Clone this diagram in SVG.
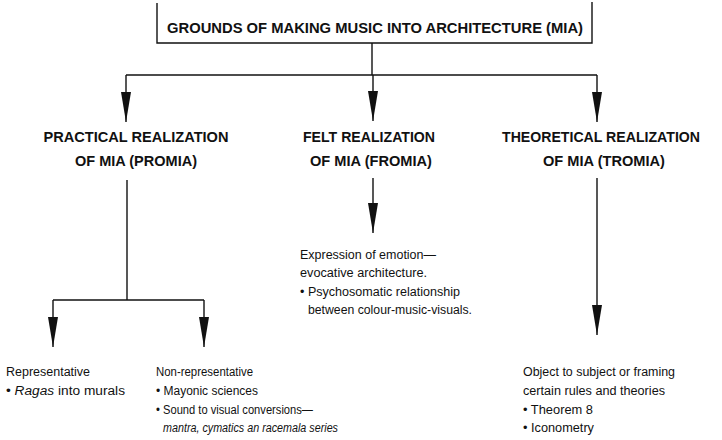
<svg xmlns="http://www.w3.org/2000/svg" width="722" height="440" viewBox="0 0 722 440">
<style>
.h{font-family:"Liberation Sans",Arial,sans-serif;font-weight:bold;font-size:15px;fill:#111;text-anchor:middle}
.t{font-family:"Liberation Sans",Arial,sans-serif;font-size:12.5px;fill:#111}
.i{font-style:italic}
.ln{stroke:#111;stroke-width:1.4;fill:none}
</style>
<defs>
<marker id="ah" viewBox="0 0 30 10" refX="30" refY="5" markerWidth="30" markerHeight="10" markerUnits="userSpaceOnUse" orient="auto">
<path d="M0,0 L30,5 L0,10 z" fill="#111"/>
</marker>
</defs>
<rect width="722" height="440" fill="#fff"/>
<g id="title">
<path class="ln" d="M157,3 V43 H592 V2"/>
<text class="h" x="375" y="33" textLength="416" lengthAdjust="spacingAndGlyphs">GROUNDS OF MAKING MUSIC INTO ARCHITECTURE (MIA)</text>
</g>
<g id="promia">
<text class="h" x="136" y="142" textLength="185" lengthAdjust="spacingAndGlyphs">PRACTICAL REALIZATION</text>
<text class="h" x="136" y="166" textLength="122" lengthAdjust="spacingAndGlyphs">OF MIA (PROMIA)</text>
</g>
<g id="fromia">
<text class="h" x="369" y="142" textLength="132" lengthAdjust="spacingAndGlyphs">FELT REALIZATION</text>
<text class="h" x="371" y="166" textLength="122" lengthAdjust="spacingAndGlyphs">OF MIA (FROMIA)</text>
</g>
<g id="tromia">
<text class="h" x="601" y="142" textLength="198" lengthAdjust="spacingAndGlyphs">THEORETICAL REALIZATION</text>
<text class="h" x="604" y="166" textLength="122" lengthAdjust="spacingAndGlyphs">OF MIA (TROMIA)</text>
</g>
<g id="felt-detail">
<text class="t" x="300" y="259" textLength="136" lengthAdjust="spacingAndGlyphs">Expression of emotion—</text>
<text class="t" x="300" y="277" textLength="127" lengthAdjust="spacingAndGlyphs">evocative architecture.</text>
<text class="t" x="300" y="296" textLength="160" lengthAdjust="spacingAndGlyphs">• Psychosomatic relationship</text>
<text class="t" x="308" y="314" textLength="164" lengthAdjust="spacingAndGlyphs">between colour-music-visuals.</text>
</g>
<g id="representative">
<text class="t" x="6" y="376">Representative</text>
<text class="t" x="6" y="395" textLength="119" lengthAdjust="spacingAndGlyphs">• <tspan class="i">Ragas</tspan> into murals</text>
</g>
<g id="non-representative">
<text class="t" x="156" y="376" textLength="97" lengthAdjust="spacingAndGlyphs">Non-representative</text>
<text class="t" x="156" y="395" textLength="102" lengthAdjust="spacingAndGlyphs">• Mayonic sciences</text>
<text class="t" x="156" y="414" textLength="157" lengthAdjust="spacingAndGlyphs">• Sound to visual conversions—</text>
<text class="t i" x="163" y="432" textLength="175" lengthAdjust="spacingAndGlyphs">mantra, cymatics an racemala series</text>
</g>
<g id="theoretical-detail">
<text class="t" x="523" y="376" textLength="152" lengthAdjust="spacingAndGlyphs">Object to subject or framing</text>
<text class="t" x="523" y="395" textLength="142" lengthAdjust="spacingAndGlyphs">certain rules and theories</text>
<text class="t" x="523" y="414" textLength="70" lengthAdjust="spacingAndGlyphs">• Theorem 8</text>
<text class="t" x="523" y="432" textLength="71" lengthAdjust="spacingAndGlyphs">• Iconometry</text>
</g>
<g id="connectors">
<path class="ln" d="M372,43 V75"/>
<path class="ln" d="M126,75 H597"/>
<path class="ln" d="M126,75 V122" marker-end="url(#ah)"/>
<path class="ln" d="M373,75 V121" marker-end="url(#ah)"/>
<path class="ln" d="M597,75 V122" marker-end="url(#ah)"/>
<path class="ln" d="M373,178 V233" marker-end="url(#ah)"/>
<path class="ln" d="M127,180 V300"/>
<path class="ln" d="M53,300 H204"/>
<path class="ln" d="M53,300 V347" marker-end="url(#ah)"/>
<path class="ln" d="M204,300 V347" marker-end="url(#ah)"/>
<path class="ln" d="M597,178 V335" marker-end="url(#ah)"/>
</g>
</svg>
